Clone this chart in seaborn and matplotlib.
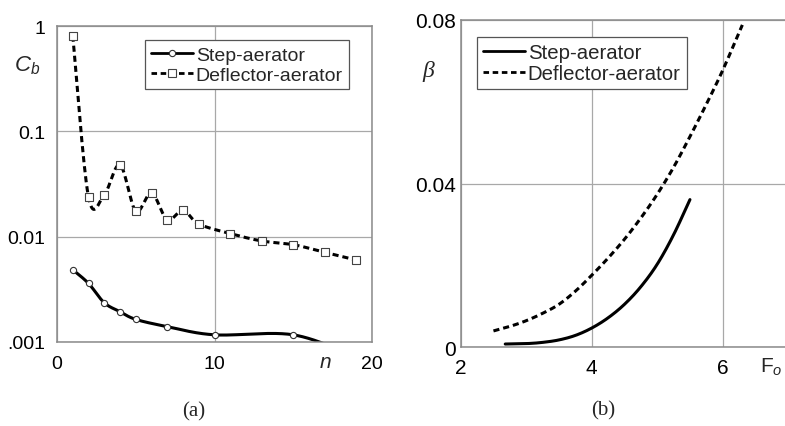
import numpy as np
import matplotlib
matplotlib.use("Agg")
import matplotlib.pyplot as plt
from matplotlib.lines import Line2D
import seaborn as sns

# ---- (a) bubble concentration C_b versus step number n ----
n_step = [1, 2, 3, 4, 5, 7, 10, 15, 19]
cb_step = [0.00485, 0.0036, 0.00236, 0.00194, 0.00164, 0.0014, 0.00117, 0.00117, 0.00072]
n_defl = [1, 2, 3, 4, 5, 6, 7, 8, 9, 11, 13, 15, 17, 19]
cb_defl = [0.81, 0.0238, 0.025, 0.048, 0.0175, 0.026, 0.0145, 0.0178, 0.0132,
           0.0107, 0.0091, 0.0084, 0.0071, 0.006]

# ---- (b) beta versus Froude number F_o ----
fo_step = [2.68, 3.0, 3.25, 3.5, 3.75, 4.0, 4.25, 4.5, 4.75, 5.0, 5.25, 5.5]
beta_step = [0.0008, 0.0009, 0.0012, 0.0018, 0.0029, 0.0047, 0.0072, 0.0105,
             0.0148, 0.0203, 0.0275, 0.0361]
fo_defl = [2.5, 2.75, 3.0, 3.25, 3.5, 3.75, 4.0, 4.25, 4.5, 4.75, 5.0, 5.25,
           5.5, 5.75, 6.0, 6.3]
beta_defl = [0.0040, 0.0051, 0.0065, 0.0083, 0.0105, 0.0137, 0.0176, 0.0218,
             0.0264, 0.0316, 0.0374, 0.0440, 0.0515, 0.0594, 0.0677, 0.0788]

labels = ["Step-aerator", "Deflector-aerator"]
a_xticks, a_xticklabels = [0, 10, 20], ["0", "10", "20"]
a_yticks, a_yticklabels = [0.001, 0.01, 0.1, 1], [".001", "0.01", "0.1", "1"]
b_xticks, b_xticklabels = [2, 4, 6], ["2", "4", "6"]
b_yticks, b_yticklabels = [0, 0.04, 0.08], ["0", "0.04", "0.08"]


def smooth(x, y, per=40):
    """Piecewise cubic Bezier through the points (Catmull-Rom tangents)."""
    x = np.asarray(x, float)
    y = np.asarray(y, float)
    px = np.concatenate([[x[0]], x, [x[-1]]])
    py = np.concatenate([[y[0]], y, [y[-1]]])
    xs, ys = [], []
    nseg = len(px) - 3
    for i in range(1, len(px) - 2):
        p0, p1, p2, p3 = [np.array([px[j], py[j]]) for j in (i - 1, i, i + 1, i + 2)]
        c1 = p1 + (p2 - p0) / 6
        c2 = p2 - (p3 - p1) / 6
        t = np.linspace(0, 1, per, endpoint=(i == nseg))[:, None]
        b = (1 - t) ** 3 * p1 + 3 * (1 - t) ** 2 * t * c1 + 3 * (1 - t) * t ** 2 * c2 + t ** 3 * p2
        xs.append(b[:, 0])
        ys.append(b[:, 1])
    return np.concatenate(xs), np.concatenate(ys)


sns.set_theme(style="white")
plt.rcParams["font.family"] = ["Liberation Sans", "DejaVu Sans"]
plt.rcParams["mathtext.fontset"] = "custom"
plt.rcParams["mathtext.it"] = "Liberation Sans:italic"
plt.rcParams["mathtext.rm"] = "Liberation Sans"

W, H = 785, 427
fig = plt.figure(figsize=(W / 100, H / 100), dpi=100)
fig.patch.set_facecolor("white")


def px_axes(l, t, r, b):
    return fig.add_axes([l / W, 1 - b / H, (r - l) / W, (b - t) / H])


ax_a = px_axes(57, 27, 372, 343)
ax_b = px_axes(460.7, 21, 788.2, 348.3)

DASH = (0, (2.0, 1.3))
LW = 2.2
SPINE = "#8a8a8a"
GRID = "#a8a8a8"

# ---------- panel (a) ----------
sx, sy = smooth(n_step, np.log10(cb_step))
sns.lineplot(x=sx, y=10 ** sy, ax=ax_a, color="black", lw=LW, sort=False, estimator=None)
dx, dy = smooth(n_defl, np.log10(cb_defl))
sns.lineplot(x=dx, y=10 ** dy, ax=ax_a, color="black", lw=LW, linestyle=DASH,
             sort=False, estimator=None)
sns.scatterplot(x=n_step, y=cb_step, ax=ax_a, marker="o", s=20, color="white",
                edgecolor="#333333", linewidth=0.8, zorder=4)
sns.scatterplot(x=n_defl, y=cb_defl, ax=ax_a, marker="s", s=34, color="white",
                edgecolor="#444444", linewidth=0.8, zorder=4)

ax_a.set_yscale("log")
ax_a.set_xlim(0, 20)
ax_a.set_ylim(0.001, 1)
ax_a.set_xticks(a_xticks, a_xticklabels)
ax_a.set_yticks(a_yticks, a_yticklabels)
ax_a.yaxis.set_minor_locator(matplotlib.ticker.NullLocator())
ax_a.tick_params(axis="x", length=0, pad=9.5, labelsize=14, colors="black")
ax_a.tick_params(axis="y", length=0, pad=8.5, labelsize=14, colors="black")

h_a = [Line2D([], [], color="black", lw=2, marker="o", markersize=4.5,
              markerfacecolor="white", markeredgecolor="#333333", markeredgewidth=0.8),
       Line2D([], [], color="black", lw=2, linestyle=(0, (2.0, 1.3)), marker="s",
              markersize=5.5, markerfacecolor="white", markeredgecolor="#444444",
              markeredgewidth=0.8)]
leg_a = ax_a.legend(h_a, labels, loc="upper left", bbox_to_anchor=(0.28, 0.955),
                    fontsize=14, handlelength=2.15, handletextpad=0.15,
                    borderpad=0.3, labelspacing=0.12, borderaxespad=0,
                    frameon=True, fancybox=False, framealpha=1, edgecolor="#555555")
leg_a.get_frame().set_linewidth(0.9)

# ---------- panel (b) ----------
bx, by = smooth(fo_step, beta_step)
sns.lineplot(x=bx, y=by, ax=ax_b, color="black", lw=LW, sort=False, estimator=None)
ex, ey = smooth(fo_defl, beta_defl)
sns.lineplot(x=ex, y=ey, ax=ax_b, color="black", lw=LW, linestyle=DASH,
             sort=False, estimator=None)
ax_b.set_xlim(2, 7)
ax_b.set_ylim(0, 0.08)
ax_b.set_xticks(b_xticks, b_xticklabels)
ax_b.set_yticks(b_yticks, b_yticklabels)
ax_b.tick_params(axis="x", length=0, pad=8, labelsize=15, colors="black")
ax_b.tick_params(axis="y", length=0, pad=3.5, labelsize=15, colors="black")

h_b = [Line2D([], [], color="black", lw=2),
       Line2D([], [], color="black", lw=2, linestyle=(0, (2.0, 1.3)))]
leg_b = ax_b.legend(h_b, labels, loc="upper left", bbox_to_anchor=(0.049, 0.948),
                    fontsize=14.7, handlelength=2.05, handletextpad=0.15,
                    borderpad=0.3, labelspacing=0.1, borderaxespad=0,
                    frameon=True, fancybox=False, framealpha=1, edgecolor="#555555")
leg_b.get_frame().set_linewidth(0.9)

for ax in (ax_a, ax_b):
    ax.set_xlabel("")
    ax.set_ylabel("")
    ax.set_facecolor("white")
    ax.grid(True, color=GRID, lw=0.9)
    ax.set_axisbelow(True)
    for s in ax.spines.values():
        s.set_color(SPINE)
        s.set_linewidth(1.1)
    ax.spines["right"].set_visible(True)


def ftext(x, y, s, **kw):
    fig.text(x / W, 1 - y / H, s, ha="center", va="center", **kw)


ftext(27, 66, "$C_b$", fontsize=16)
ftext(325, 362, "$n$", fontsize=15)
ftext(194, 412, "(a)", fontsize=15, family="Liberation Serif")
ftext(428, 72, "β", fontsize=17, family="Liberation Serif", style="italic")
ftext(771, 367, r"$\mathrm{F}_o$", fontsize=15)
ftext(603, 411, "(b)", fontsize=15, family="Liberation Serif")

fig.savefig("out.png", dpi=100, facecolor="white")
